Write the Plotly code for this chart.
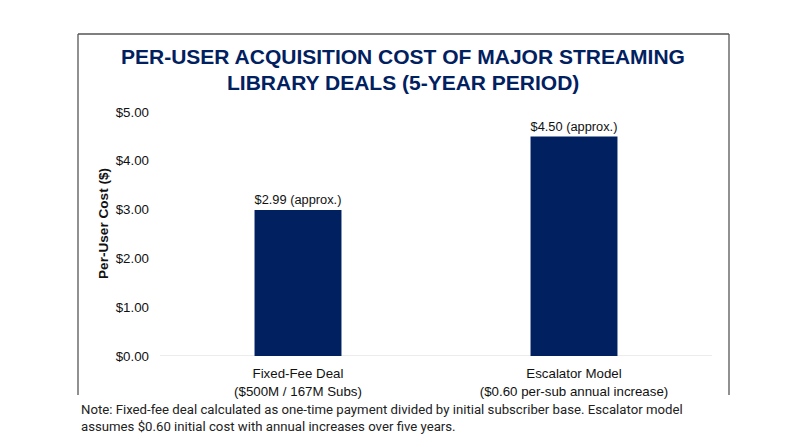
import plotly.graph_objects as go

# данные графика
categories = ["Fixed-Fee Deal<br>($500M / 167M Subs)",
              "Escalator Model<br>($0.60 per-sub annual increase)"]
cost_values = [2.99, 4.50]
bar_labels = ["$2.99 (approx.)", "$4.50 (approx.)"]
y_ticks = [0, 1, 2, 3, 4, 5]
y_tick_text = ["$0.00", "$1.00", "$2.00", "$3.00", "$4.00", "$5.00"]

# страница добавляет отступ 8px, поэтому фигура чуть меньше окна
OFF = 8
W, H = 800 - OFF, 447 - OFF
L, R, T, B = 160 - OFF, 88, 112 - OFF, 91

def px_x(x):
    # x в координатах референса
    return (x - OFF - L) / (W - L - R)

def px_y(y):
    return (H - B - (y - OFF)) / (H - T - B)

navy = "#012060"

fig = go.Figure()
fig.add_trace(go.Bar(
    x=categories, y=cost_values,
    marker=dict(color=navy, line=dict(width=0)),
    text=bar_labels, textposition="outside",
    textfont=dict(family="Liberation Sans, Arial", size=13.6, color="#111"),
    cliponaxis=False,
    width=0.315,
    showlegend=False,
))

fig.update_layout(
    width=W, height=H,
    margin=dict(l=L, r=R, t=T, b=B),
    paper_bgcolor="white", plot_bgcolor="white",
    font=dict(family="Liberation Sans, Arial", size=13, color="#111"),
    xaxis=dict(showgrid=False, showline=False, ticks="", ticklabelstandoff=8,
               tickfont=dict(size=13.3, color="#111")),
    yaxis=dict(range=[0, 5], tickvals=y_ticks, ticktext=y_tick_text,
               showgrid=False, zeroline=False, showline=False, ticks="",
               tickfont=dict(size=13.3, color="#111"), ticklabelstandoff=10),
)

# заголовок двумя строками
title_font = dict(family="Liberation Sans, Arial", size=21, color=navy, weight="bold")
fig.add_annotation(text="PER-USER ACQUISITION COST OF MAJOR STREAMING",
                   xref="paper", yref="paper", x=px_x(403), y=px_y(57),
                   xanchor="center", yanchor="middle", showarrow=False, font=title_font)
fig.add_annotation(text="LIBRARY DEALS (5-YEAR PERIOD)",
                   xref="paper", yref="paper", x=px_x(403), y=px_y(83),
                   xanchor="center", yanchor="middle", showarrow=False, font=title_font)

# линия нуля
fig.add_shape(type="line", xref="paper", yref="y", x0=0, x1=1, y0=0, y1=0,
              line=dict(color="#d9d9d9", width=1), layer="below")

# рамка без нижней стороны
frame = dict(color="#555555", width=1.3)
fig.add_shape(type="line", xref="paper", yref="paper",
              x0=px_x(78), x1=px_x(78), y0=px_y(34), y1=px_y(395), line=frame)
fig.add_shape(type="line", xref="paper", yref="paper",
              x0=px_x(729), x1=px_x(729), y0=px_y(34), y1=px_y(395), line=frame)
fig.add_shape(type="line", xref="paper", yref="paper",
              x0=px_x(78), x1=px_x(729), y0=px_y(34), y1=px_y(34), line=frame)

fig.add_annotation(text="<b>Per-User Cost ($)</b>", textangle=-90,
                   xref="paper", yref="paper", x=px_x(103), y=px_y(224),
                   xanchor="center", yanchor="middle",
                   showarrow=False, font=dict(size=13.6, color="#111"))

fig.add_annotation(
    text="Note: Fixed-fee deal calculated as one-time payment divided by initial subscriber base. Escalator model<br>assumes $0.60 initial cost with annual increases over five years.",
    xref="paper", yref="paper", x=px_x(79), y=px_y(400),
    xanchor="left", yanchor="top", align="left", showarrow=False,
    font=dict(family="Roboto", size=13.2, color="#222"))

fig.write_html("out.html")
